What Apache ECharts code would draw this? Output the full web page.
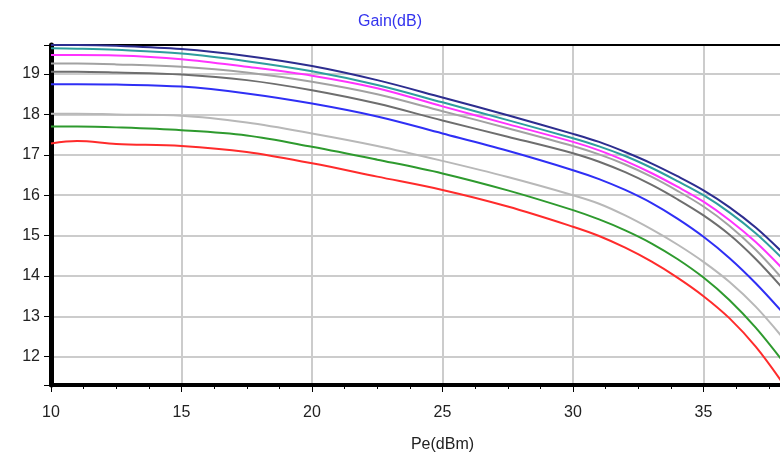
<!DOCTYPE html>
<html>
<head>
<meta charset="utf-8">
<script src="https://cdn.jsdelivr.net/npm/echarts@6/dist/echarts.min.js"></script>
<style>
html,body{margin:0;padding:0;background:#fff;}
#chart{width:780px;height:456px;}
</style>
</head>
<body>
<div id="chart"></div>
<script>
// Pe (dBm) sample positions
const pe = [10, 11, 12.5, 15, 17.5, 20, 22.5, 25, 27.5, 30, 31, 32, 33, 34, 35, 36, 37, 38];

// Gain (dB) curves, top to bottom
const gainNavy    = [19.72, 19.72, 19.70, 19.62, 19.45, 19.20, 18.85, 18.42, 17.98, 17.52, 17.32, 17.07, 16.79, 16.47, 16.12, 15.70, 15.20, 14.60];
const gainTeal    = [19.64, 19.63, 19.60, 19.51, 19.32, 19.07, 18.73, 18.30, 17.86, 17.41, 17.21, 16.97, 16.68, 16.35, 16.00, 15.57, 15.06, 14.45];
const gainMagenta = [19.47, 19.47, 19.46, 19.37, 19.18, 18.96, 18.65, 18.20, 17.76, 17.32, 17.11, 16.85, 16.55, 16.21, 15.84, 15.38, 14.84, 14.20];
const gainGrayHi  = [19.26, 19.26, 19.24, 19.18, 19.04, 18.81, 18.50, 18.08, 17.66, 17.22, 17.01, 16.76, 16.46, 16.11, 15.72, 15.24, 14.65, 13.95];
const gainGrayDk  = [19.06, 19.06, 19.04, 18.99, 18.85, 18.60, 18.27, 17.85, 17.45, 17.04, 16.83, 16.57, 16.26, 15.90, 15.50, 15.02, 14.42, 13.72];
const gainBlue    = [18.75, 18.75, 18.74, 18.69, 18.52, 18.27, 17.95, 17.53, 17.10, 16.62, 16.40, 16.13, 15.81, 15.42, 14.97, 14.44, 13.82, 13.12];
const gainGrayLo  = [18.02, 18.02, 18.00, 17.97, 17.80, 17.53, 17.22, 16.85, 16.45, 16.00, 15.79, 15.50, 15.16, 14.78, 14.35, 13.85, 13.24, 12.50];
const gainGreen   = [17.70, 17.70, 17.68, 17.61, 17.48, 17.20, 16.88, 16.54, 16.12, 15.63, 15.40, 15.13, 14.81, 14.42, 13.96, 13.40, 12.72, 11.92];
const gainRed     = [17.28, 17.34, 17.27, 17.22, 17.07, 16.79, 16.46, 16.13, 15.72, 15.22, 14.99, 14.70, 14.36, 13.96, 13.50, 12.95, 12.25, 11.38];

const seriesDefs = [
  { data: gainGrayLo,  color: '#b8b8b8' },
  { data: gainGrayHi,  color: '#a2a2a2' },
  { data: gainGrayDk,  color: '#6e6e6e' },
  { data: gainRed,     color: '#ff2b2b' },
  { data: gainGreen,   color: '#2e9a2e' },
  { data: gainBlue,    color: '#2f2ff5' },
  { data: gainMagenta, color: '#ff33ff' },
  { data: gainTeal,    color: '#2e9e9e' },
  { data: gainNavy,    color: '#2d2d8f' }
];

const FONT = "'Liberation Sans', Arial, sans-serif";

const chart = echarts.init(document.getElementById('chart'), null, { renderer: 'canvas' });

chart.setOption({
  animation: false,
  backgroundColor: '#ffffff',
  title: {
    text: 'Gain(dB)',
    left: 'center',
    top: 9,
    textStyle: { color: '#3333ee', fontSize: 16, fontWeight: 'normal', fontFamily: FONT }
  },
  grid: { left: 51, top: 45, right: -54, bottom: 71, containLabel: false, outerBoundsMode: 'none' },
  xAxis: [
    {
      type: 'value',
      min: 10,
      max: 40,
      interval: 5,
      name: 'Pe(dBm)',
      nameLocation: 'middle',
      nameGap: 52,
      nameTextStyle: { color: '#222', fontSize: 16, fontFamily: FONT },
      axisLine: { show: true, onZero: false, lineStyle: { color: '#000', width: 4 } },
      axisTick: { show: true, length: 7, lineStyle: { color: '#000', width: 1 } },
      minorTick: { show: true, splitNumber: 4, length: 4, lineStyle: { color: '#000', width: 1 } },
      axisLabel: { color: '#222', fontSize: 16, fontFamily: FONT, margin: 20, showMaxLabel: false },
      splitLine: { show: true, lineStyle: { color: '#cccccc', width: 2 } }
    },
    {
      type: 'value',
      position: 'top',
      min: 10,
      max: 40,
      interval: 5,
      axisLine: { show: true, onZero: false, lineStyle: { color: '#000', width: 2 } },
      axisTick: { show: false },
      axisLabel: { show: false },
      splitLine: { show: false }
    }
  ],
  yAxis: {
    type: 'value',
    min: 11.3,
    max: 19.72,
    splitNumber: 8,
    minInterval: 1,
    maxInterval: 1,
    axisLine: { show: true, onZero: false, lineStyle: { color: '#000', width: 5 } },
    axisTick: { show: true, length: 7, lineStyle: { color: '#000', width: 1 } },
    minorTick: { show: true, splitNumber: 5, length: 2, lineStyle: { color: '#000', width: 1 } },
    axisLabel: { color: '#222', fontSize: 16, fontFamily: FONT, margin: 11, showMinLabel: false, showMaxLabel: false },
    splitLine: { show: true, lineStyle: { color: '#cccccc', width: 2 } }
  },
  series: seriesDefs.map(s => ({
    type: 'line',
    data: pe.map((x, i) => [x, s.data[i]]),
    smooth: 0.35,
    showSymbol: false,
    lineStyle: { color: s.color, width: 2 },
    itemStyle: { color: s.color },
    clip: true
  }))
});
</script>
</body>
</html>
